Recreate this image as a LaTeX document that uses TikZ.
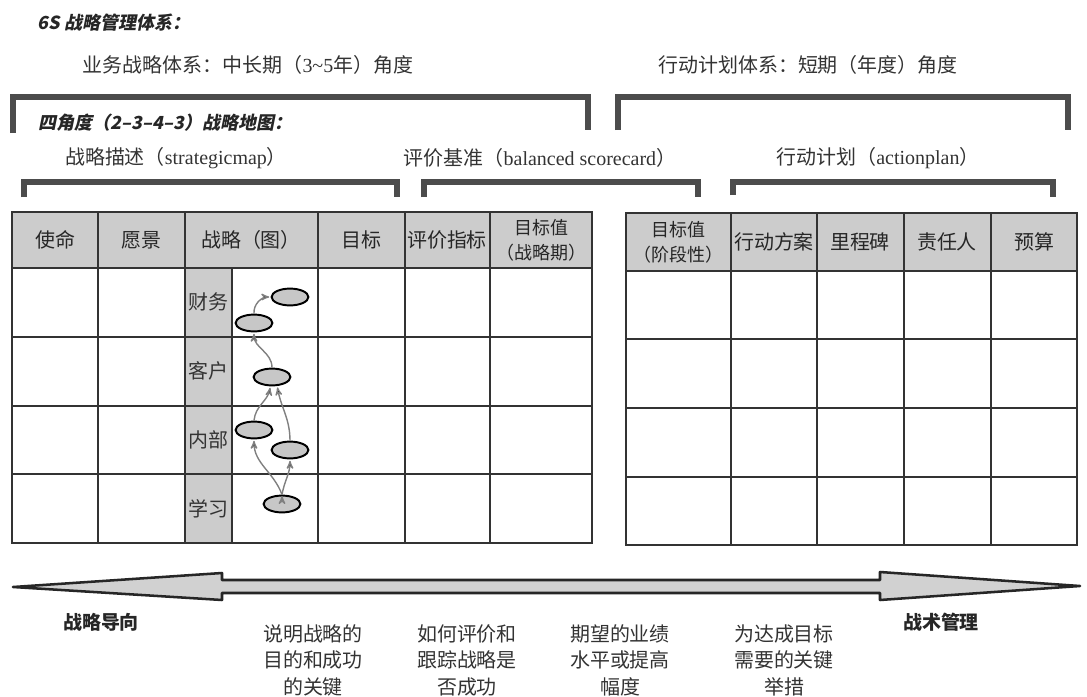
\documentclass[tikz,border=0pt]{standalone}
\usepackage{fontspec}
\setmainfont{Noto Sans CJK SC}
\newfontfamily\latinfont{Liberation Serif}
\newfontfamily\slantfont[FakeSlant=0.2]{Noto Sans CJK SC}
\usepackage{tikz}
\usetikzlibrary{arrows,shapes.geometric}

\begin{document}
\begin{tikzpicture}[x=0.025cm,y=-0.025cm,>=stealth',node distance=1.72cm,
  thick,title node/.style={font=\slantfont\bfseries\fontsize{12.8}{15}\selectfont,text=black!85,inner sep=0,anchor=west},
        sub node/.style={font=\fontsize{14.2}{17}\selectfont,text=black!80,inner sep=0},
        head node/.style={font=\fontsize{14.2}{17}\selectfont,text=black!85,inner sep=0,align=center},
        small head/.style={head node,font=\fontsize{12.8}{17.8}\selectfont},
        side node/.style={font=\fontsize{14.2}{17}\selectfont,text=black!80,inner sep=0},
        goal node/.style={ellipse,draw=black,fill=black!22,line width=1.4pt,minimum width=0.92cm,minimum height=0.42cm,inner sep=0},
        note node/.style={font=\fontsize{14.2}{18.9}\selectfont,text=black!80,align=center,inner sep=0,anchor=north},
        end node/.style={font=\bfseries\fontsize{13.5}{16}\selectfont,text=black!85,inner sep=0},
        bracket/.style={draw=black!70,line width=4.3pt},
        grid line/.style={draw=black!80,line width=1.4pt},
        head fill/.style={fill=black!20},
        link/.style={->,draw=black!50,line width=1pt,shorten >=1pt}]
  \useasboundingbox (0,0) rectangle (1087,697);

  % titles and brackets
  \node[title node] (t6s) at (37,23) {6S 战略管理体系：};
  \node[sub node] (bizsys) at (248,65) {业务战略体系：中长期（{\latinfont 3\textasciitilde5}年）角度};
  \node[sub node] (actsys) at (808,65) {行动计划体系：短期（年度）角度};
  \draw[bracket] (13,133) |- (588,97) -- (588,130);
  \draw[bracket] (618,130) |- (1068,97) -- (1068,130);
  \node[title node] (map4) at (38,123) {四角度（2–3–4–3）战略地图：};
  \node[sub node] (descr) at (176,158) {战略描述（{\latinfont strategicmap}）};
  \node[sub node] (eval) at (540,158) {评价基准（{\latinfont balanced scorecard}）};
  \node[sub node] (plan) at (878,158) {行动计划（{\latinfont actionplan}）};
  \draw[bracket] (24,197) |- (397,182) -- (397,197);
  \draw[bracket] (424,197) |- (698,182) -- (698,197);
  \draw[bracket] (733,195) |- (1053,182) -- (1053,197);

  % left table
  \fill[head fill] (12,212) rectangle (592,268);
  \fill[head fill] (185,268) rectangle (232,543);
  \draw[grid line] (12,212) rectangle (592,543);
  \draw[grid line] (12,268) -- (592,268) (12,337) -- (592,337)
    (12,406) -- (592,406) (12,474) -- (592,474);
  \draw[grid line] (98,212) -- (98,543) (185,212) -- (185,543)
    (318,212) -- (318,543) (405,212) -- (405,543) (490,212) -- (490,543)
    (232,268) -- (232,543);

  % right table
  \fill[head fill] (626,213) rectangle (1077,271);
  \draw[grid line] (626,213) rectangle (1077,545);
  \draw[grid line] (626,271) -- (1077,271) (626,339) -- (1077,339)
    (626,408) -- (1077,408) (626,477) -- (1077,477);
  \draw[grid line] (731,213) -- (731,545) (817,213) -- (817,545)
    (904,213) -- (904,545) (991,213) -- (991,545);

  \node[head node] (mission) at (55,240) {使命};
  \node[head node] (vision) at (141,240) {愿景};
  \node[head node] (strat) at (251,240) {战略（图）};
  \node[head node] (target) at (361,240) {目标};
  \node[head node] (kpi) at (447,240) {评价指标};
  \node[small head] (tlong) at (541,240) {目标值\\（战略期）};
  \node[small head] (tstage) at (678,242) {目标值\\（阶段性）};
  \node[head node] (action) at (774,242) {行动方案};
  \node[head node] (milestone) at (860,242) {里程碑};
  \node[head node] (owner) at (947,242) {责任人};
  \node[head node] (budget) at (1034,242) {预算};

  \node[side node] (fin) at (208,302) {财务};
  \node[side node] (cus) [below of=fin] {客户};
  \node[side node] (inn) [below of=cus] {内部};
  \node[side node] (lrn) [below of=inn] {学习};

  % strategy map
  \node[goal node] (g1) at (290,297) {};
  \node[goal node] (g2) at (254,323) {};
  \node[goal node] (g3) at (272,377) {};
  \node[goal node] (g4) at (254,430) {};
  \node[goal node] (g5) at (290,450) {};
  \node[goal node] (g6) at (282,504) {};

  \path[link]
    (g2.north) edge[out=95,in=180] (g1.west)
    (g3.north) edge[out=90,in=-90] (g2.south)
    (g4.north) edge[out=85,in=-100] (g3.-100)
    (g5.north) edge[out=90,in=-80] (g3.-60)
    (g6.north) edge[out=110,in=-90] (g4.south)
    (g6.north) edge[out=80,in=-90] (g5.south);

  % bottom arrow
  \draw[fill=black!18,draw=black!85,line width=1.8pt,line join=round]
    (13,587) -- (222,573) -- (222,580) -- (880,580) -- (880,572) -- (1080,586)
    -- (880,600) -- (880,593) -- (222,593) -- (222,600) -- cycle;

  \node[end node] (dirL) at (101,622) {战略导向};
  \node[end node] (dirR) at (941,622) {战术管理};
  \node[note node] (n1) at (313,624) {说明战略的\\目的和成功\\的关键};
  \node[note node] (n2) at (467,624) {如何评价和\\跟踪战略是\\否成功};
  \node[note node] (n3) at (620,624) {期望的业绩\\水平或提高\\幅度};
  \node[note node] (n4) at (784,624) {为达成目标\\需要的关键\\举措};
\end{tikzpicture}
\end{document}
